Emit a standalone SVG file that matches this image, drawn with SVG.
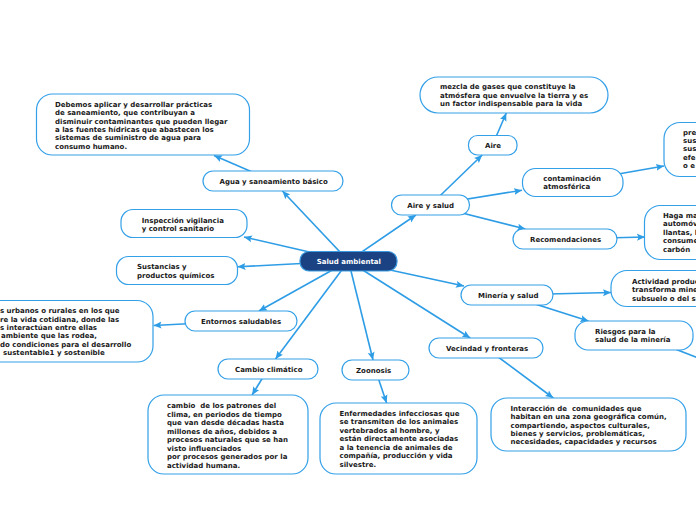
<svg xmlns="http://www.w3.org/2000/svg" width="696" height="520" viewBox="0 0 696 520">
<style>
.n{fill:#ffffff;stroke:#33a0e8;stroke-width:1.2}
.c{fill:#1b4282;stroke:#3a9be0;stroke-width:1.2}
.t{font-family:"DejaVu Sans",Verdana,sans-serif;font-weight:bold;font-size:7px;fill:#1a1a1a;white-space:pre}
.w{fill:#ffffff}
.e{stroke:#2e9de6;stroke-width:1.6;fill:none}
</style>
<defs>
<marker id="a" markerUnits="userSpaceOnUse" markerWidth="9" markerHeight="8" refX="8" refY="4" orient="auto">
<path d="M0,0.5 L8,4 L0,7.5 L1.5,4 z" fill="#2e9de6"/>
</marker>
</defs>
<rect width="696" height="520" fill="#ffffff"/>
<g id="connectors">
<line class="e" x1="348.5" y1="261" x2="282.4" y2="191" marker-end="url(#a)"/>
<line class="e" x1="273" y1="181" x2="214" y2="155.5" marker-end="url(#a)"/>
<line class="e" x1="348.5" y1="261" x2="244" y2="237" marker-end="url(#a)"/>
<line class="e" x1="348.5" y1="261" x2="237.5" y2="266.8" marker-end="url(#a)"/>
<line class="e" x1="348.5" y1="261" x2="258.9" y2="311" marker-end="url(#a)"/>
<line class="e" x1="241" y1="321" x2="153.5" y2="325.5" marker-end="url(#a)"/>
<line class="e" x1="348.5" y1="261" x2="275.5" y2="359" marker-end="url(#a)"/>
<line class="e" x1="268" y1="369" x2="252.1" y2="395" marker-end="url(#a)"/>
<line class="e" x1="348.5" y1="261" x2="373" y2="360" marker-end="url(#a)"/>
<line class="e" x1="375.5" y1="370" x2="386.6" y2="403" marker-end="url(#a)"/>
<line class="e" x1="348.5" y1="261" x2="470.2" y2="338" marker-end="url(#a)"/>
<line class="e" x1="486" y1="348" x2="553.3" y2="398" marker-end="url(#a)"/>
<line class="e" x1="348.5" y1="261" x2="464" y2="286" marker-end="url(#a)"/>
<line class="e" x1="507" y1="295" x2="611" y2="292.5" marker-end="url(#a)"/>
<line class="e" x1="507" y1="295" x2="588.5" y2="321" marker-end="url(#a)"/>
<line class="e" x1="634" y1="333" x2="720" y2="366.5"/>
<line class="e" x1="348.5" y1="261" x2="415.9" y2="215" marker-end="url(#a)"/>
<line class="e" x1="430.5" y1="205" x2="482.2" y2="155" marker-end="url(#a)"/>
<line class="e" x1="492.5" y1="145" x2="506.3" y2="113" marker-end="url(#a)"/>
<line class="e" x1="430.5" y1="205" x2="522" y2="190.2" marker-end="url(#a)"/>
<line class="e" x1="572.5" y1="182" x2="664" y2="166" marker-end="url(#a)"/>
<line class="e" x1="430.5" y1="205" x2="525.4" y2="229" marker-end="url(#a)"/>
<line class="e" x1="565" y1="239" x2="645" y2="237" marker-end="url(#a)"/>
</g>
<g id="salud-ambiental">
<rect class="c" x="300" y="251.5" width="97" height="19.5" rx="9"/>
<text class="t w" x="316.7" y="263.5">Salud ambiental</text>
</g>
<g id="agua">
<rect class="n" x="203" y="171" width="140" height="20" rx="10"/>
<text class="t" x="219.5" y="184.3">Agua y saneamiento básico</text>
</g>
<g id="agua-texto">
<rect class="n" x="36.5" y="94" width="213" height="61" rx="16"/>
<text class="t" x="55" y="106.8">Debemos aplicar y desarrollar prácticas</text>
<text class="t" x="55" y="115.2">de saneamiento, que contribuyan a</text>
<text class="t" x="55" y="123.6">disminuir contaminantes que pueden llegar</text>
<text class="t" x="55" y="132">a las fuentes hídricas que abastecen los</text>
<text class="t" x="55" y="140.4">sistemas de suministro de agua para</text>
<text class="t" x="55" y="148.8">consumo humano.</text>
</g>
<g id="inspeccion">
<rect class="n" x="121" y="209.5" width="126" height="28" rx="12"/>
<text class="t" x="141.7" y="222.5">Inspección vigilancia</text>
<text class="t" x="141.7" y="231.2">y control sanitario</text>
</g>
<g id="sustancias">
<rect class="n" x="116.5" y="256.5" width="121" height="28" rx="12"/>
<text class="t" x="137" y="269.2">Sustancias y</text>
<text class="t" x="137" y="277.8">productos químicos</text>
</g>
<g id="entornos">
<rect class="n" x="185" y="311" width="112" height="20" rx="10"/>
<text class="t" x="201" y="323.5">Entornos saludables</text>
</g>
<g id="entornos-texto">
<rect class="n" x="-60" y="300.5" width="213" height="61.5" rx="16"/>
<text class="t" x="0" y="313.2">s urbanos o rurales en los que</text>
<text class="t" x="0" y="321.5">re la vida cotidiana, donde las</text>
<text class="t" x="0" y="329.8">s interactúan entre ellas</text>
<text class="t" x="1" y="338.2">ambiente que las rodea,</text>
<text class="t" x="0" y="346.5">do condiciones para el desarrollo</text>
<text class="t" x="3" y="354.8">sustentable1 y sostenible</text>
</g>
<g id="cambio">
<rect class="n" x="218" y="359" width="100" height="20" rx="10"/>
<text class="t" x="235" y="371.5">Cambio climático</text>
</g>
<g id="cambio-texto">
<rect class="n" x="148" y="395" width="160" height="79" rx="16"/>
<text class="t" x="167" y="408.2">cambio  de los patrones del</text>
<text class="t" x="167" y="416.7">clima, en periodos de tiempo</text>
<text class="t" x="167" y="425.2">que van desde décadas hasta</text>
<text class="t" x="167" y="433.7">millones de años, debidos a</text>
<text class="t" x="167" y="442.2">procesos naturales que se han</text>
<text class="t" x="167" y="450.7">visto influenciados</text>
<text class="t" x="167" y="459.2">por procesos generados por la</text>
<text class="t" x="167" y="467.7">actividad humana.</text>
</g>
<g id="zoonosis">
<rect class="n" x="342" y="360" width="67" height="20" rx="10"/>
<text class="t" x="356" y="372.5">Zoonosis</text>
</g>
<g id="zoonosis-texto">
<rect class="n" x="320" y="403" width="157" height="71" rx="16"/>
<text class="t" x="339.5" y="415.8">Enfermedades infecciosas que</text>
<text class="t" x="339.5" y="424.3">se transmiten de los animales</text>
<text class="t" x="339.5" y="432.8">vertebrados al hombre, y</text>
<text class="t" x="339.5" y="441.3">están directamente asociadas</text>
<text class="t" x="339.5" y="449.8">a la tenencia de animales de</text>
<text class="t" x="339.5" y="458.3">compañía, producción y vida</text>
<text class="t" x="339.5" y="466.8">silvestre.</text>
</g>
<g id="vecindad">
<rect class="n" x="429" y="338" width="114" height="20" rx="10"/>
<text class="t" x="446" y="350.5">Vecindad y fronteras</text>
</g>
<g id="vecindad-texto">
<rect class="n" x="491" y="398" width="195" height="53" rx="16"/>
<text class="t" x="510.5" y="410.8">Interacción de  comunidades que</text>
<text class="t" x="510.5" y="419.2">habitan en una zona geográfica común,</text>
<text class="t" x="510.5" y="427.6">compartiendo, aspectos culturales,</text>
<text class="t" x="510.5" y="436">bienes y servicios, problemáticas,</text>
<text class="t" x="510.5" y="444.4">necesidades, capacidades y recursos</text>
</g>
<g id="mineria">
<rect class="n" x="461" y="285" width="92" height="20" rx="10"/>
<text class="t" x="478" y="297.5">Minería y salud</text>
</g>
<g id="mineria-texto">
<rect class="n" x="611" y="270.5" width="150" height="36" rx="16"/>
<text class="t" x="632" y="283.5">Actividad produc</text>
<text class="t" x="632" y="292">transforma mine</text>
<text class="t" x="632" y="300.5">subsuelo o del su</text>
</g>
<g id="riesgos">
<rect class="n" x="575" y="321" width="118" height="29" rx="13"/>
<text class="t" x="595" y="333.5">Riesgos para la</text>
<text class="t" x="595" y="342">salud de la minería</text>
</g>
<g id="aire-salud">
<rect class="n" x="391.5" y="195" width="78" height="20" rx="10"/>
<text class="t" x="407.3" y="207.8">Aire y salud</text>
</g>
<g id="aire">
<rect class="n" x="468.5" y="135.5" width="48.5" height="19.5" rx="9"/>
<text class="t" x="485" y="148.2">Aire</text>
</g>
<g id="aire-texto">
<rect class="n" x="420" y="77" width="188" height="36" rx="18"/>
<text class="t" x="440" y="89.2">mezcla de gases que constituye la</text>
<text class="t" x="440" y="97.6">atmósfera que envuelve la tierra y es</text>
<text class="t" x="440" y="106">un factor indispensable para la vida</text>
</g>
<g id="contaminacion">
<rect class="n" x="522.5" y="168.5" width="100.5" height="28" rx="13"/>
<text class="t" x="543.3" y="181.2">contaminación</text>
<text class="t" x="543.3" y="189.2">atmosférica</text>
</g>
<g id="contaminacion-texto">
<rect class="n" x="664" y="122.5" width="100" height="54" rx="16"/>
<text class="t" x="683" y="134.5">pre</text>
<text class="t" x="683" y="142.9">sus</text>
<text class="t" x="683" y="151.3">sus</text>
<text class="t" x="683" y="159.7">efe</text>
<text class="t" x="683" y="168.1">o e</text>
</g>
<g id="recomendaciones">
<rect class="n" x="513" y="229" width="104" height="20" rx="10"/>
<text class="t" x="530" y="241.8">Recomendaciones</text>
</g>
<g id="recomendaciones-texto">
<rect class="n" x="644.5" y="205.5" width="110" height="54" rx="16"/>
<text class="t" x="663" y="217.5">Haga ma</text>
<text class="t" x="663" y="226">automóv</text>
<text class="t" x="663" y="234.5">llantas, l</text>
<text class="t" x="663" y="243">consume</text>
<text class="t" x="663" y="251.5">carbón</text>
</g>
</svg>
